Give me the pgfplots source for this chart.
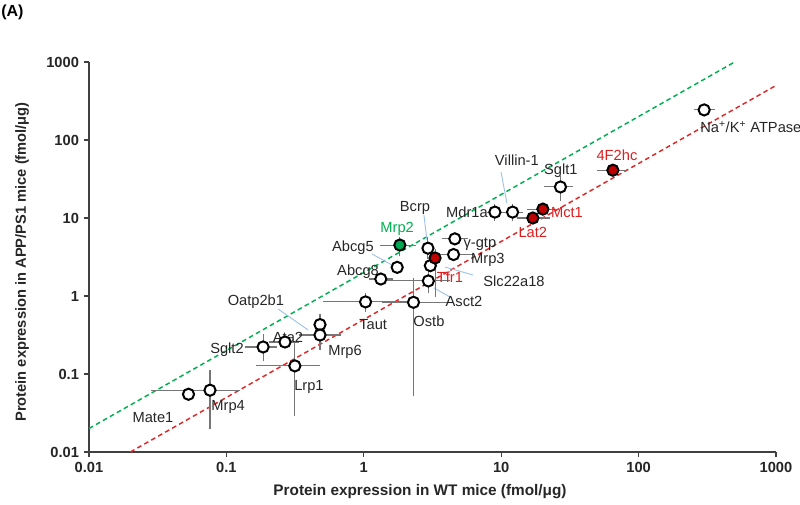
\documentclass[border=0pt]{standalone}
\usepackage{fontspec}
\setmainfont{Liberation Sans}
\usepackage{pgfplots}
\usepackage{pgfplotstable}
\pgfplotsset{compat=1.18}
\definecolor{gline}{RGB}{0,176,80}
\definecolor{rline}{RGB}{225,40,40}
\definecolor{rfill}{RGB}{192,0,0}
\definecolor{gfill}{RGB}{0,166,81}
\definecolor{lead}{RGB}{157,195,230}
\definecolor{ebar}{RGB}{118,118,118}
\definecolor{axc}{RGB}{64,64,64}
\definecolor{rtxt}{RGB}{220,30,30}
\definecolor{gtxt}{RGB}{0,176,80}

\pgfplotstableread{
x y xp xm yp ym
300 243 42 34 0 0
27 25 4.6 5.5 6.6 7
12.1 11.9 1.6 1.8 1.9 1.9
9.0 11.9 1.2 0.7 1.9 1.9
2.93 4.1 0 0 1.1 0.8
4.6 5.4 0.85 0.7 0 0
4.5 3.4 1.4 0.9 0 0
3.05 2.45 0 0 0 0
1.75 2.33 0 0 0 0
1.33 1.65 0.22 0.18 0 0
2.95 1.56 1.05 1.4 0.47 0.36
1.03 0.84 0.97 0.5 0.15 0.16
2.3 0.83 1.8 0.87 0.73 0.773
0.48 0.43 0 0 0.11 0
0.48 0.316 0.17 0.12 0 0.09
0.267 0.257 0.05 0.05 0 0
0.185 0.222 0.035 0.041 0.075 0.062
0.315 0.127 0.14 0.14 0.1 0.095
0.076 0.062 0.043 0.046 0.041 0.04
0.053 0.055 0 0 0 0
}\opentab

\pgfplotstableread{
x y xp xm yp ym
65 41 12 12.6 0 0
20.1 13 4.6 3.9 0 0
17 10 4.6 3.3 0 0
3.3 3.07 0 0 0.6 2.0
}\redtab

\pgfplotstableread{
x y xp xm yp ym
1.83 4.5 0.45 0.45 0.72 0.94
}\greentab

\begin{document}
\begin{tikzpicture}
\useasboundingbox (-66.75pt,-39.75pt) rectangle (533.25pt,339pt);
\begin{axis}[
  scale only axis, width=515.25pt, height=292.5pt,
  at={(0,0)}, anchor=south west,
  xmode=log, ymode=log,
  xmin=0.01, xmax=1000, ymin=0.01, ymax=1000,
  axis x line*=bottom, axis y line*=left,
  axis line style={axc, line width=0.8pt},
  every tick/.style={axc, line width=0.8pt},
  tick align=outside, major tick length=4pt,
  xminorticks=false, yminorticks=false,
  xtick={0.01,0.1,1,10,100,1000},
  ytick={0.01,0.1,1,10,100,1000},
  xticklabels={\textbf{0.01},\textbf{0.1},\textbf{1},\textbf{10},\textbf{100},\textbf{1000}},
  yticklabels={\textbf{0.01},\textbf{0.1},\textbf{1},\textbf{10},\textbf{100},\textbf{1000}},
  ticklabel style={font=\fontsize{11}{13}\selectfont, text=black!85},
  clip=false,
  error bars/error bar style={ebar, line width=0.8pt},
  error bars/error mark options={ebar, mark size=2.5pt, line width=0.8pt},
]
% reference lines
\addplot[gline, dashed, line width=1.1pt, dash pattern=on 3.5pt off 2.5pt] coordinates {(0.01,0.02) (500,1000)};
\addplot[rline, dashed, line width=1.1pt, dash pattern=on 3.5pt off 2.5pt] coordinates {(0.02,0.01) (1000,500)};
% leader lines
\draw[lead, line width=0.7pt] (axis cs:9.97,38.9) -- (axis cs:11.0,15.6);
\draw[lead, line width=0.7pt] (axis cs:2.74,10.9) -- (axis cs:2.88,5.22);
\draw[lead, line width=0.7pt] (axis cs:1.15,3.45) -- (axis cs:1.60,2.5);
\draw[lead, line width=0.7pt] (axis cs:3.90,2.35) -- (axis cs:6.23,1.86);
\draw[lead, line width=0.7pt] (axis cs:3.24,1.27) -- (axis cs:4.38,0.94);
\draw[lead, line width=0.7pt] (axis cs:0.238,0.681) -- (axis cs:0.393,0.367);
% points
\addplot[only marks, mark=*, mark size=4.2pt, mark options={fill=white, draw=black, line width=1.5pt},
  error bars/.cd, x dir=both, x explicit, y dir=both, y explicit]
  table[x=x, y=y, x error plus=xp, x error minus=xm, y error plus=yp, y error minus=ym] {\opentab};
\addplot[only marks, mark=*, mark size=4.2pt, mark options={fill=rfill, draw=black, line width=1.5pt},
  error bars/.cd, x dir=both, x explicit, y dir=both, y explicit]
  table[x=x, y=y, x error plus=xp, x error minus=xm, y error plus=yp, y error minus=ym] {\redtab};
\addplot[only marks, mark=*, mark size=4.2pt, mark options={fill=gfill, draw=black, line width=1.5pt},
  error bars/.cd, x dir=both, x explicit, y dir=both, y explicit]
  table[x=x, y=y, x error plus=xp, x error minus=xm, y error plus=yp, y error minus=ym] {\greentab};
% labels
\begin{scope}[every node/.style={font=\fontsize{11}{13}\selectfont, text=black!85, inner sep=0pt}]
\node[anchor=west] at (axis cs:280,147) {Na\textsuperscript{+}/K\textsuperscript{+} ATPase};
\node[text=rtxt] at (axis cs:69.6,64.2) {4F2hc};
\node at (axis cs:27.2,40.1) {Sglt1};
\node at (axis cs:13.0,55.4) {Villin-1};
\node[text=rtxt] at (axis cs:30.1,11.9) {Mct1};
\node[text=rtxt] at (axis cs:17.0,6.62) {Lat2};
\node at (axis cs:5.64,11.7) {Mdr1a};
\node at (axis cs:2.36,13.4) {Bcrp};
\node[text=gtxt] at (axis cs:1.75,7.2) {Mrp2};
\node at (axis cs:7.0,4.64) {γ-gtp};
\node at (axis cs:8.0,2.9) {Mrp3};
\node at (axis cs:0.834,4.12) {Abcg5};
\node at (axis cs:0.908,2.03) {Abcg8};
\node at (axis cs:12.4,1.56) {Slc22a18};
\node[text=rtxt] at (axis cs:4.24,1.75) {Tfr1};
\node at (axis cs:5.36,0.863) {Asct2};
\node at (axis cs:2.98,0.478) {Ostb};
\node at (axis cs:1.17,0.425) {Taut};
\node at (axis cs:0.164,0.838) {Oatp2b1};
\node at (axis cs:0.281,0.29) {Ata2};
\node at (axis cs:0.101,0.203) {Sglt2};
\node at (axis cs:0.73,0.191) {Mrp6};
\node at (axis cs:0.399,0.068) {Lrp1};
\node at (axis cs:0.103,0.0378) {Mrp4};
\node at (axis cs:0.0292,0.0273) {Mate1};
\end{scope}
\end{axis}
\node[font=\bfseries\fontsize{11.5}{13}\selectfont, text=black!85] at (248.25pt,-30pt) {Protein expression in WT mice (fmol/μg)};
\node[font=\bfseries\fontsize{11}{13}\selectfont, text=black!85, rotate=90] at (-50.25pt,142.5pt) {Protein expression in APP/PS1 mice (fmol/μg)};
\node[font=\bfseries\fontsize{12}{14}\selectfont, anchor=west, inner sep=0pt] at (-66pt,330pt) {(A)};
\end{tikzpicture}
\end{document}
